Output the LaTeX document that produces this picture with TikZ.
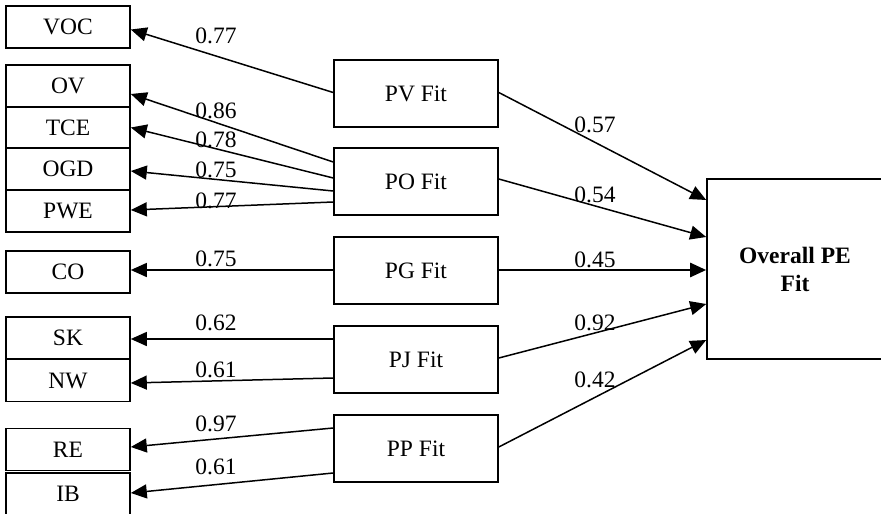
\documentclass[tikz,border=0pt]{standalone}
\usepackage{fontspec}
\setmainfont{Liberation Serif}
\usetikzlibrary{arrows.meta,calc}
\begin{document}
\begin{tikzpicture}[x=1pt,y=-1pt,
  txt/.style={font=\fontsize{23.5}{26}\selectfont},
  leftbox/.style={txt,draw,line width=1.6pt,minimum width=124pt,minimum height=42pt,inner sep=0pt,text height=15pt,text depth=0pt},
  fitbox/.style={txt,draw,line width=1.6pt,minimum width=164pt,minimum height=67pt,inner sep=0pt,text height=15pt,text depth=0pt},
  arr/.style={line width=1.5pt,-{Triangle[length=16pt,width=14pt]}},
  lbl/.style={txt,inner sep=0pt,text height=15pt,text depth=0pt}]
\useasboundingbox (0,0) rectangle (881,514);
% left boxes
\node[leftbox] (voc) at (68,27) {VOC};
\node[leftbox] (ov) at (68,86) {OV};
\node[leftbox] (tce) at (68,127.5) {TCE};
\node[leftbox] (ogd) at (68,169) {OGD};
\node[leftbox] (pwe) at (68,211) {PWE};
\node[leftbox] (co) at (68,272) {CO};
\node[leftbox] (sk) at (68,338) {SK};
\node[leftbox] (nw) at (68,380.5) {NW};
\node[leftbox] (re) at (68,449.5) {RE};
\node[leftbox] (ib) at (68,494) {IB};
% middle boxes
\node[fitbox] (pv) at (416,93.5) {PV Fit};
\node[fitbox] (po) at (416,181.5) {PO Fit};
\node[fitbox] (pg) at (416,270.5) {PG Fit};
\node[fitbox] (pj) at (416,359.5) {PJ Fit};
\node[fitbox] (pp) at (416,448.5) {PP Fit};
% right box
\node[draw,line width=1.6pt,minimum width=176pt,minimum height=180pt,inner sep=0pt,
      align=center,font=\bfseries\fontsize{23.5}{28}\selectfont] (all) at (795,269) {Overall PE\\Fit};
% left arrows
\draw[arr] ($(pv.west)+(0,-1)$) -- ($(voc.east)+(0,2.5)$);
\draw[arr] ($(po.west)+(0,-19.5)$) -- ($(ov.east)+(0,8)$);
\draw[arr] ($(po.west)+(0,-3.5)$) -- ($(tce.east)+(0,0)$);
\draw[arr] ($(po.west)+(0,9.5)$) -- ($(ogd.east)+(0,2)$);
\draw[arr] ($(po.west)+(0,20.5)$) -- ($(pwe.east)+(0,-1)$);
\draw[arr] ($(pg.west)+(0,-0.5)$) -- ($(co.east)+(0,-2)$);
\draw[arr] ($(pj.west)+(0,-20.5)$) -- ($(sk.east)+(0,1)$);
\draw[arr] ($(pj.west)+(0,18.5)$) -- ($(nw.east)+(0,2.5)$);
\draw[arr] ($(pp.west)+(0,-20.5)$) -- ($(re.east)+(0,-2.5)$);
\draw[arr] ($(pp.west)+(0,24.5)$) -- ($(ib.east)+(0,-1)$);
% right arrows
\draw[arr] ($(pv.east)+(0,-1)$) -- ($(all.west)+(0,-69)$);
\draw[arr] ($(po.east)+(0,-2.5)$) -- ($(all.west)+(0,-32)$);
\draw[arr,line width=2.6pt] ($(pg.east)+(0,-0.5)$) -- ($(all.west)+(0,1)$);
\draw[arr] ($(pj.east)+(0,-1.5)$) -- ($(all.west)+(0,35)$);
\draw[arr] ($(pp.east)+(0,-1.5)$) -- ($(all.west)+(0,71)$);
% labels
\node[lbl] (l1) at (216,36) {0.77};
\node[lbl] (l2) at (216,111) {0.86};
\node[lbl] (l3) at (216,140) {0.78};
\node[lbl] (l4) at (216,169.5) {0.75};
\node[lbl] (l5) at (216,201) {0.77};
\node[lbl] (l6) at (216,259) {0.75};
\node[lbl] (l7) at (216,323) {0.62};
\node[lbl] (l8) at (216,370) {0.61};
\node[lbl] (l9) at (216,424) {0.97};
\node[lbl] (l10) at (216,467) {0.61};
\node[lbl] (r1) at (595,124.5) {0.57};
\node[lbl] (r2) at (595,194.5) {0.54};
\node[lbl] (r3) at (595,259.5) {0.45};
\node[lbl] (r4) at (595,323) {0.92};
\node[lbl] (r5) at (595,379.5) {0.42};
\end{tikzpicture}
\end{document}
